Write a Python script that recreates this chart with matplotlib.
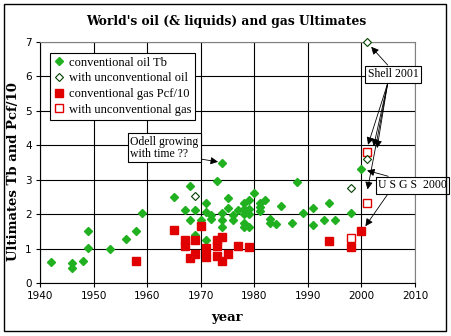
import matplotlib
matplotlib.use('Agg')
import matplotlib.pyplot as plt
from matplotlib.patches import Rectangle

# conventional oil (Tb)
oil_years = [1942, 1946, 1946, 1948, 1949, 1949, 1953, 1956, 1958, 1959,
             1965, 1967, 1968, 1968, 1969, 1969, 1970, 1971, 1971, 1971,
             1972, 1972, 1973, 1974, 1974, 1974, 1974, 1975, 1975, 1976,
             1976, 1977, 1978, 1978, 1978, 1978, 1978, 1979, 1979, 1979,
             1979, 1980, 1981, 1981, 1981, 1982, 1983, 1983, 1984, 1985,
             1987, 1988, 1989, 1991, 1991, 1993, 1994, 1995, 1998, 2000]
oil_vals = [0.60, 0.57, 0.43, 0.63, 1.50, 1.03, 1.00, 1.28, 1.50, 2.02,
            2.50, 2.12, 2.82, 1.83, 2.12, 1.39, 1.83, 2.31, 2.07, 1.25,
            1.97, 1.85, 2.97, 3.50, 2.02, 1.83, 1.62, 2.46, 2.17, 1.97,
            1.83, 2.12, 2.31, 2.15, 2.00, 1.73, 1.62, 2.41, 2.15, 2.00,
            1.62, 2.60, 2.31, 2.22, 2.09, 2.41, 1.86, 1.73, 1.71, 2.25,
            1.73, 2.94, 2.02, 2.17, 1.69, 1.83, 2.33, 1.83, 2.02, 3.30]

# with unconventional oil
uoil_years = [1969, 1998, 2001, 2001]
uoil_vals = [2.52, 2.75, 3.60, 7.00]

# conventional gas (Pcf/10)
gas_years = [1958, 1965, 1967, 1967, 1968, 1969, 1969, 1970, 1971, 1971,
             1973, 1973, 1973, 1974, 1974, 1975, 1977, 1979, 1994, 1998, 2000]
gas_vals = [0.65, 1.54, 1.25, 1.08, 0.74, 1.25, 0.83, 1.66, 1.03, 0.76,
            1.25, 1.08, 0.79, 1.33, 0.65, 0.83, 1.08, 1.05, 1.23, 1.04, 1.50]

# with unconventional gas
ugas_years = [1998, 2001, 2001]
ugas_vals = [1.30, 2.33, 3.81]

green = '#20b020'
red = '#e00000'

fig = plt.figure(figsize=(4.52, 3.36), dpi=100)
ax = fig.add_axes([40/452, 1-283/336, 375/452, 241/336])

ax.plot(oil_years, oil_vals, 'D', ms=4.4, color=green, mec=green, ls='none',
        label='conventional oil Tb')
ax.plot(uoil_years, uoil_vals, 'D', ms=4.2, mfc='white', mec='#004000', mew=0.8,
        ls='none', label='with unconventional oil', clip_on=False, zorder=3)
ax.plot(gas_years, gas_vals, 's', ms=5.2, color=red, ls='none',
        label='conventional gas Pcf/10')
ax.plot(ugas_years, ugas_vals, 's', ms=5.2, mfc='white', mec=red, mew=1,
        ls='none', label='with unconventional gas')

ax.set_xlim(1940, 2010)
ax.set_ylim(0, 7)
ax.set_xticks(range(1940, 2011, 10))
ax.set_yticks(range(0, 8))
ax.grid(True, color='black', lw=0.8)
ax.set_axisbelow(True)
for s in ['top', 'right']:
    ax.spines[s].set_color('#808080')
for s in ['left', 'bottom']:
    ax.spines[s].set_color('black')
ax.tick_params(length=3, width=0.8, labelsize=7.5, pad=3)
for lab in ax.get_xticklabels() + ax.get_yticklabels():
    lab.set_family('DejaVu Sans')

leg = ax.legend(loc='upper left', bbox_to_anchor=(0.027, 0.955), fancybox=False,
                framealpha=1, edgecolor='black', borderpad=0.3, labelspacing=0.3,
                handlelength=0.8, handletextpad=0.4, borderaxespad=0,
                prop={'family': 'Liberation Serif', 'size': 9})
leg.get_frame().set_linewidth(0.8)

tfont = dict(family='Liberation Serif', size=8.5)
box = dict(boxstyle='square,pad=0.2', fc='white', ec='black', lw=0.8)
arrow = dict(arrowstyle='-|>', color='black', lw=0.6, mutation_scale=11,
             shrinkA=0, shrinkB=3)

ax.annotate('', xy=(1974, 3.5), xytext=(1963.2, 3.77), arrowprops=arrow)
ax.text(1956.8, 3.93, 'Odell growing\nwith time ??', ha='left', va='center',
        bbox=box, linespacing=1.0, **tfont)

ax.annotate('', xy=(2001.3, 6.95), xytext=(2004.9, 6.33), arrowprops=arrow)
for tx, ty in [(2001, 3.9), (2002.1, 3.85), (2002.8, 3.8), (2001, 2.6)]:
    ax.annotate('', xy=(tx, ty), xytext=(2004.9, 5.8), arrowprops=arrow)
ax.text(2005.9, 6.06, 'Shell 2001', ha='center', va='center', bbox=box,
        clip_on=False, zorder=5, **tfont)

ax.annotate('', xy=(2000.3, 3.3), xytext=(2005, 3.1), arrowprops=arrow)
ax.annotate('', xy=(2000.3, 1.55), xytext=(2005, 2.6), arrowprops=arrow)
ax.text(2009.5, 2.84, 'U S G S  2000', ha='center', va='center', bbox=box,
        clip_on=False, zorder=5, **tfont)

fig.text(0.5, 1-22/336, "World's oil (& liquids) and gas Ultimates", ha='center',
         va='center', family='DejaVu Serif', weight='bold', size=8.8)
fig.text(227/452, 1-317/336, 'year', ha='center', va='center',
         family='DejaVu Serif', weight='bold', size=9.5)
fig.text(14/452, 1-172/336, 'Ultimates Tb and Pcf/10', ha='center', va='center',
         rotation=90, family='DejaVu Serif', weight='bold', size=9.5)

fig.patches.append(Rectangle((4/452, 1-331/336), 442/452, 327/336, fill=False,
                             ec='black', lw=1, transform=fig.transFigure))

fig.savefig('out.png', dpi=100)
